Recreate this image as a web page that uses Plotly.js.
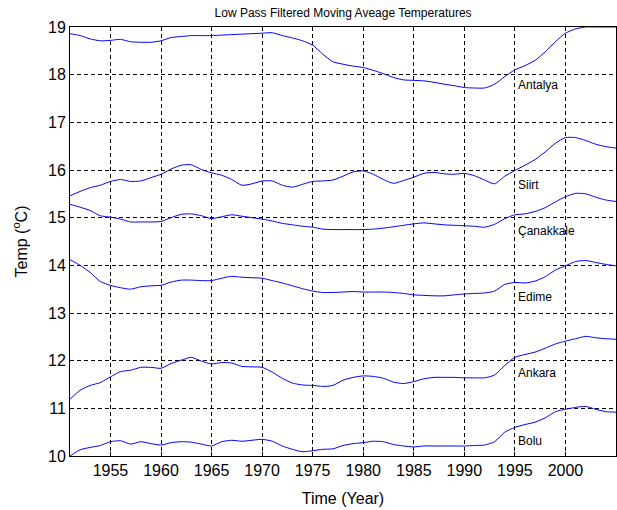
<!DOCTYPE html>
<html>
<head>
<meta charset="utf-8">
<script src="https://cdn.plot.ly/plotly-3.0.1.min.js"></script>
<style>html,body{margin:0;padding:0;background:#fff;}#chart{width:617px;height:510px;}</style>
</head>
<body>
<div id="chart"></div>
<script>
const years = [];
for (let y = 1951; y <= 2005; y++) years.push(y);

const stations = ["Antalya", "Siirt", "Çanakkale", "Edime", "Ankara", "Bolu"];

const antalya = [18.86,18.82,18.75,18.71,18.72,18.74,18.69,18.68,18.68,18.71,
18.78,18.80,18.82,18.82,18.82,18.83,18.84,18.85,18.86,18.87,
18.88,18.82,18.77,18.71,18.62,18.43,18.27,18.22,18.18,18.15,
18.09,18.02,17.94,17.89,17.88,17.87,17.84,17.80,17.77,17.73,
17.72,17.72,17.80,17.96,18.10,18.19,18.30,18.48,18.69,18.87,
18.96,19.00,19.00,19.00,19.00];

const siirt = [15.46,15.55,15.63,15.68,15.76,15.80,15.76,15.77,15.84,15.91,
16.02,16.10,16.11,16.01,15.94,15.89,15.80,15.68,15.71,15.77,
15.77,15.68,15.64,15.70,15.76,15.77,15.79,15.87,15.96,15.98,
15.91,15.80,15.72,15.78,15.85,15.93,15.95,15.92,15.91,15.93,
15.88,15.79,15.71,15.87,15.99,16.10,16.22,16.38,16.56,16.68,
16.68,16.62,16.54,16.49,16.46];

const canakkale = [15.28,15.22,15.15,15.04,15.01,14.97,14.91,14.91,14.91,14.92,
15.00,15.07,15.08,15.04,14.98,15.02,15.06,15.03,15.00,14.97,
14.93,14.88,14.85,14.82,14.80,14.76,14.75,14.75,14.75,14.75,
14.76,14.78,14.81,14.84,14.87,14.89,14.87,14.85,14.84,14.83,
14.82,14.80,14.86,14.98,15.06,15.08,15.13,15.21,15.33,15.44,
15.51,15.50,15.43,15.37,15.34];

const edirne = [14.12,14.00,13.85,13.66,13.58,13.53,13.50,13.55,13.57,13.58,
13.65,13.69,13.69,13.68,13.68,13.73,13.77,13.75,13.74,13.73,
13.68,13.63,13.57,13.51,13.46,13.43,13.43,13.44,13.45,13.44,
13.44,13.44,13.43,13.41,13.38,13.37,13.36,13.36,13.38,13.40,
13.41,13.42,13.46,13.60,13.64,13.63,13.67,13.76,13.90,13.99,
14.08,14.10,14.06,14.02,13.99];

const ankara = [11.19,11.38,11.48,11.54,11.66,11.77,11.80,11.86,11.86,11.84,
11.94,12.01,12.07,11.99,11.93,11.96,11.95,11.88,11.87,11.86,
11.76,11.63,11.53,11.49,11.48,11.46,11.48,11.59,11.65,11.68,
11.67,11.63,11.55,11.52,11.56,11.62,11.65,11.65,11.65,11.64,
11.64,11.64,11.70,11.90,12.07,12.13,12.18,12.26,12.35,12.41,
12.46,12.51,12.48,12.46,12.45];

const bolu = [10.00,10.13,10.18,10.22,10.30,10.32,10.25,10.30,10.26,10.23,
10.28,10.30,10.29,10.25,10.21,10.30,10.33,10.31,10.33,10.35,
10.31,10.21,10.14,10.09,10.11,10.14,10.15,10.22,10.26,10.28,
10.31,10.30,10.24,10.21,10.19,10.21,10.21,10.21,10.21,10.21,
10.22,10.23,10.30,10.50,10.60,10.66,10.71,10.80,10.93,10.98,
11.02,11.04,10.98,10.93,10.92];

const labelX = 1995.1;
const labelY = [17.78, 15.68, 14.72, 13.34, 11.74, 10.32];

const series = [antalya, siirt, canakkale, edirne, ankara, bolu];
const xTicks = [1955,1960,1965,1970,1975,1980,1985,1990,1995,2000];
const yTicks = [10,11,12,13,14,15,16,17,18,19];

const FONT = 'Liberation Sans, Arial, sans-serif';

const traces = series.map((s, i) => ({
  x: years, y: s, type: 'scatter', mode: 'lines', name: stations[i],
  line: {color: '#0000ff', width: 1, shape: 'spline', smoothing: 0.6},
  hoverinfo: 'skip'
}));

const annotations = stations.map((n, i) => ({
  x: labelX, y: labelY[i], xref: 'x', yref: 'y', text: n, showarrow: false,
  xanchor: 'left', yanchor: 'middle', font: {family: FONT, size: 12, color: '#000'}
}));

const gridStyle = {showgrid: true, gridcolor: '#000', griddash: '4px,3px', gridwidth: 1};

const layout = {
  width: 617, height: 510,
  margin: {l: 70, r: 1, t: 27, b: 54},
  paper_bgcolor: '#fff', plot_bgcolor: '#fff',
  showlegend: false,
  title: {text: 'Low Pass Filtered Moving Aveage Temperatures', x: 0.556, xanchor: 'center', y: 0.975, yanchor: 'middle',
    font: {family: FONT, size: 12, color: '#000'}},
  xaxis: Object.assign({
    range: [1951, 2005], tickvals: xTicks, ticktext: xTicks.map(String),
    showline: true, mirror: true, linecolor: '#000', linewidth: 1, zeroline: false,
    ticks: 'inside', ticklen: 4, tickcolor: '#000',
    tickfont: {family: FONT, size: 16, color: '#000'},
    title: {text: 'Time (Year)', font: {family: FONT, size: 16, color: '#000'}, standoff: 14}
  }, gridStyle),
  yaxis: Object.assign({
    range: [10, 19], tickvals: yTicks, ticktext: yTicks.map(String),
    showline: true, mirror: true, linecolor: '#000', linewidth: 1, zeroline: false,
    ticks: 'inside', ticklen: 4, tickcolor: '#000',
    tickfont: {family: FONT, size: 16, color: '#000'},
    title: {text: 'Temp (<sup>o</sup>C)', font: {family: FONT, size: 16, color: '#000'}, standoff: 16}
  }, gridStyle),
  annotations: annotations
};

Plotly.newPlot('chart', traces, layout, {staticPlot: true, displayModeBar: false});
</script>
</body>
</html>
